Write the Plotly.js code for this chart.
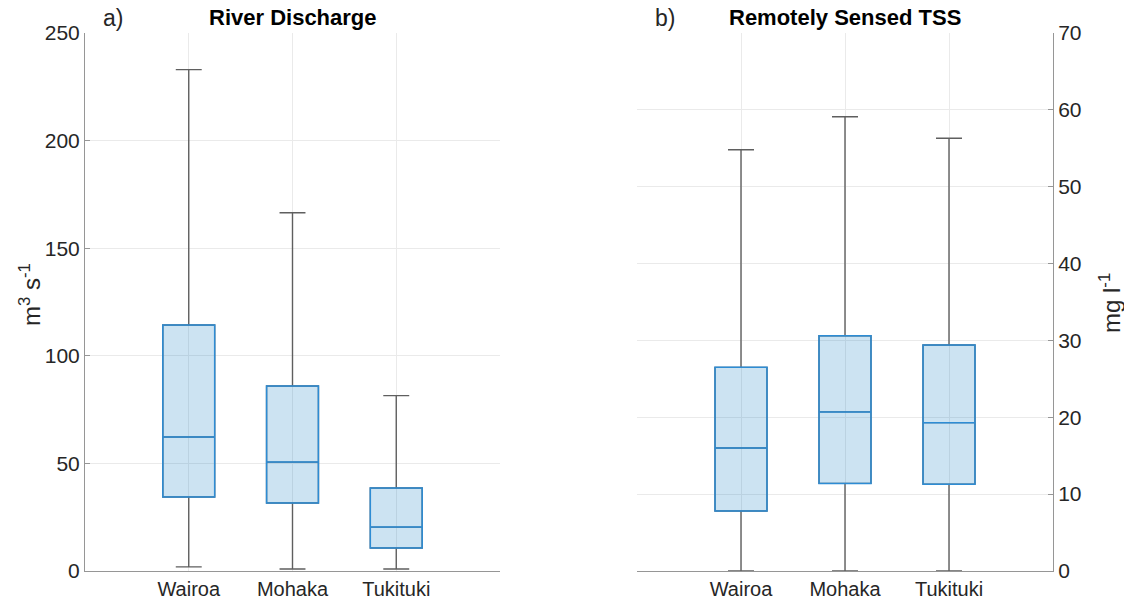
<!DOCTYPE html>
<html>
<head>
<meta charset="utf-8">
<script src="https://cdn.plot.ly/plotly-3.0.1.min.js"></script>
<style>html,body{margin:0;padding:0;background:#fff;}#chart{width:1124px;height:603px;}</style>
</head>
<body>
<div id="chart"></div>
<script>
const categories = ['Wairoa', 'Mohaka', 'Tukituki'];

// River discharge (m3 s-1)
const dischargeLower  = [1.9, 0.9, 0.9];
const dischargeQ1     = [34.4, 31.6, 10.7];
const dischargeMedian = [62.3, 50.6, 20.4];
const dischargeQ3     = [114.3, 86.0, 38.6];
const dischargeUpper  = [233.0, 166.5, 81.5];

// Remotely sensed TSS (mg l-1)
const tssLower  = [0, 0, 0];
const tssQ1     = [7.8, 11.4, 11.3];
const tssMedian = [16.0, 20.7, 19.3];
const tssQ3     = [26.5, 30.6, 29.4];
const tssUpper  = [54.8, 59.1, 56.3];

const boxBlue = 'rgb(45,140,212)';
const boxFill = 'rgba(0,114,189,0.2)';
const whiskerGray = 'rgb(95,95,95)';
const FONT = 'Liberation Sans, Arial, Helvetica, sans-serif';
const TXT = '#262626';

function makeTraces(lower, q1, med, q3, upper, xa, ya) {
  const whisk = {
    type: 'box', x: categories, q1: q1, median: med, q3: q3,
    lowerfence: lower, upperfence: upper,
    width: 0.5, whiskerwidth: 0.5,
    line: {color: whiskerGray, width: 1.4},
    fillcolor: 'rgba(0,0,0,0)',
    boxpoints: false, hoverinfo: 'skip', showlegend: false,
    xaxis: xa, yaxis: ya
  };
  const box = {
    type: 'box', x: categories, q1: q1, median: med, q3: q3,
    lowerfence: q1, upperfence: q3,
    width: 0.5, whiskerwidth: 0,
    line: {color: boxBlue, width: 1.5},
    fillcolor: boxFill,
    boxpoints: false, showlegend: false,
    xaxis: xa, yaxis: ya
  };
  return [whisk, box];
}

const data = [
  ...makeTraces(dischargeLower, dischargeQ1, dischargeMedian, dischargeQ3, dischargeUpper, 'x', 'y'),
  ...makeTraces(tssLower, tssQ1, tssMedian, tssQ3, tssUpper, 'x2', 'y2')
];

const W = 1124, H = 603;
const yDom = [1 - 571 / H, 1 - 33 / H];

const xBase = {
  type: 'category', categoryorder: 'array', categoryarray: categories,
  range: [-1, 3], showgrid: true, gridcolor: 'rgb(234,234,234)', gridwidth: 1,
  showline: true, linecolor: 'rgb(150,150,150)', linewidth: 1,
  ticks: '', zeroline: false, fixedrange: true,
  tickfont: {family: FONT, size: 20, color: TXT}
};
const yBase = {
  showgrid: true, gridcolor: 'rgb(234,234,234)', gridwidth: 1,
  showline: true, linecolor: 'rgb(150,150,150)', linewidth: 1,
  ticks: 'inside', ticklen: 5, tickcolor: 'rgb(150,150,150)',
  zeroline: false, fixedrange: true,
  tickfont: {family: FONT, size: 21, color: TXT}
};

const layout = {
  width: W, height: H,
  margin: {l: 0, r: 0, t: 0, b: 0},
  paper_bgcolor: '#fff', plot_bgcolor: '#fff',
  boxmode: 'overlay',
  showlegend: false,
  font: {family: FONT, color: TXT},
  xaxis: Object.assign({}, xBase, {domain: [85 / W, 500 / W], anchor: 'y'}),
  xaxis2: Object.assign({}, xBase, {domain: [637 / W, 1053 / W], anchor: 'y2'}),
  yaxis: Object.assign({}, yBase, {domain: yDom, anchor: 'x', range: [0, 250],
    tickvals: [0, 50, 100, 150, 200, 250]}),
  yaxis2: Object.assign({}, yBase, {domain: yDom, anchor: 'x2', side: 'right', range: [0, 70],
    tickvals: [0, 10, 20, 30, 40, 50, 60, 70]}),
  annotations: [
    {text: '<b>River Discharge</b>', xref: 'paper', yref: 'paper', x: 293 / W, y: 1 - 18 / H,
     xanchor: 'center', yanchor: 'middle', showarrow: false, font: {family: FONT, size: 22, color: '#000'}},
    {text: '<b>Remotely Sensed TSS</b>', xref: 'paper', yref: 'paper', x: 845 / W, y: 1 - 18 / H,
     xanchor: 'center', yanchor: 'middle', showarrow: false, font: {family: FONT, size: 22, color: '#000'}},
    {text: 'a)', xref: 'paper', yref: 'paper', x: 101 / W, y: 1 - 18 / H,
     xanchor: 'left', yanchor: 'middle', showarrow: false, font: {family: FONT, size: 23, color: TXT}},
    {text: 'b)', xref: 'paper', yref: 'paper', x: 653 / W, y: 1 - 18 / H,
     xanchor: 'left', yanchor: 'middle', showarrow: false, font: {family: FONT, size: 23, color: TXT}},
    {text: 'm<sup>3</sup> s<sup>-1</sup>', xref: 'paper', yref: 'paper', x: 30 / W, y: 1 - 295 / H,
     xanchor: 'center', yanchor: 'middle', textangle: -90, showarrow: false, font: {family: FONT, size: 24, color: TXT}},
    {text: 'mg l<sup>-1</sup>', xref: 'paper', yref: 'paper', x: 1110 / W, y: 1 - 303 / H,
     xanchor: 'center', yanchor: 'middle', textangle: -90, showarrow: false, font: {family: FONT, size: 24, color: TXT}}
  ]
};

Plotly.newPlot('chart', data, layout, {displayModeBar: false, staticPlot: true});
</script>
</body>
</html>
